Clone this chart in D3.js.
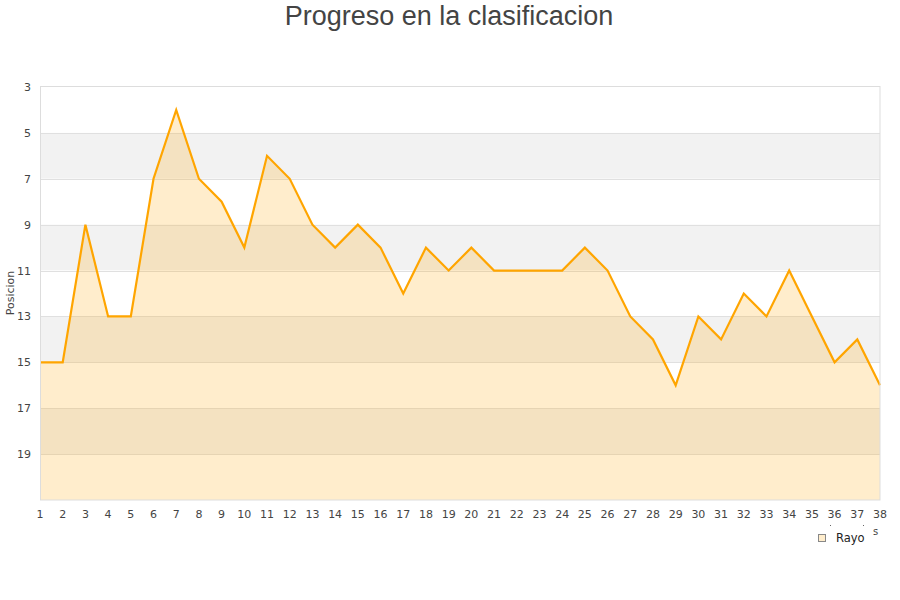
<!DOCTYPE html>
<html><head><meta charset="utf-8">
<script src="https://cdn.jsdelivr.net/npm/d3@7"></script>
<style>body{margin:0;background:#fff}svg{display:block}</style>
</head><body>
<svg id="c" width="900" height="600"></svg>
<script>
const jornadas = [1,2,3,4,5,6,7,8,9,10,11,12,13,14,15,16,17,18,19,20,21,22,23,24,25,26,27,28,29,30,31,32,33,34,35,36,37,38];
const posicion = [15,15,9,13,13,7,4,7,8,10,6,7,9,10,9,10,12,10,11,10,11,11,11,11,10,11,13,14,16,13,14,12,13,11,13,15,14,16];
const yTicks = [3,5,7,9,11,13,15,17,19];
const serieNombre = "Rayo";
const titulo = "Progreso en la clasificacion";
const yTitulo = "Posicion";

const svg = d3.select("#c");
const L=40,R=880,T=87,B=500;
const x = d3.scaleLinear().domain([1,38]).range([L,R]);
const y = d3.scaleLinear().domain([3,21]).range([T,B]);

const bands = d3.range(3,21,2);
svg.selectAll("rect.band").data(bands).enter().append("rect")
  .attr("x",L).attr("width",R-L)
  .attr("y",d=>y(d)).attr("height",d=>y(d+2)-y(d))
  .attr("fill",(d,i)=>i%2===1?"#f2f2f2":"#ffffff");
svg.selectAll("line.grid").data(d3.range(5,21,2)).enter().append("line")
  .attr("x1",L).attr("x2",R).attr("y1",d=>Math.round(y(d))+0.5).attr("y2",d=>Math.round(y(d))+0.5)
  .attr("stroke","#e0e0e0").attr("stroke-width",1);

const pts = jornadas.map((j,i)=>[j,posicion[i]]);
svg.append("path").datum(pts)
  .attr("d",d3.area().x(d=>x(d[0])).y0(y(21)).y1(d=>y(d[1])))
  .attr("fill","rgba(255,165,0,0.2)");
svg.append("path").datum(pts)
  .attr("d",d3.line().x(d=>x(d[0])).y(d=>y(d[1])))
  .attr("fill","none").attr("stroke","#FFA500").attr("stroke-width",2.2).attr("stroke-linejoin","miter");

svg.append("rect").attr("x",L+0.5).attr("y",T-0.5).attr("width",R-L-0.5).attr("height",B-T+0.5)
  .attr("fill","none").attr("stroke","#dddddd");

const tf = "DejaVu Sans, Verdana, sans-serif";
svg.selectAll("text.yt").data(yTicks).enter().append("text")
  .attr("x",31).attr("y",d=>y(d)+4).attr("text-anchor","end")
  .attr("font-family",tf).attr("font-size",11).attr("fill","#444").text(d=>d);
svg.selectAll("text.xt").data(jornadas).enter().append("text")
  .attr("x",d=>x(d)).attr("y",518).attr("text-anchor","middle")
  .attr("font-family",tf).attr("font-size",11).attr("fill","#444").text(d=>d);

svg.append("text").attr("transform","translate(14,293) rotate(-90)").attr("text-anchor","middle")
  .attr("font-family",tf).attr("font-size",11).attr("fill","#444").text(yTitulo);

svg.append("text").attr("x",449).attr("y",25).attr("text-anchor","middle")
  .attr("font-family","Liberation Sans, Arial, sans-serif").attr("font-size",27).attr("fill","#444").text(titulo);

svg.append("rect").attr("x",818.5).attr("y",534.5).attr("width",7).attr("height",7)
  .attr("fill","#FFEDCC").attr("stroke","#888").attr("stroke-width",1);
svg.append("text").attr("x",836).attr("y",542).attr("font-family",tf).attr("font-size",11.5).attr("fill","#222").text(serieNombre);
svg.append("text").attr("x",873).attr("y",535).attr("font-family",tf).attr("font-size",10).attr("fill","#444").text("s");
svg.append("rect").attr("x",830).attr("y",525).attr("width",1).attr("height",1).attr("fill","#666");
svg.append("rect").attr("x",863).attr("y",525).attr("width",1).attr("height",1).attr("fill","#666");
</script>
</body></html>
